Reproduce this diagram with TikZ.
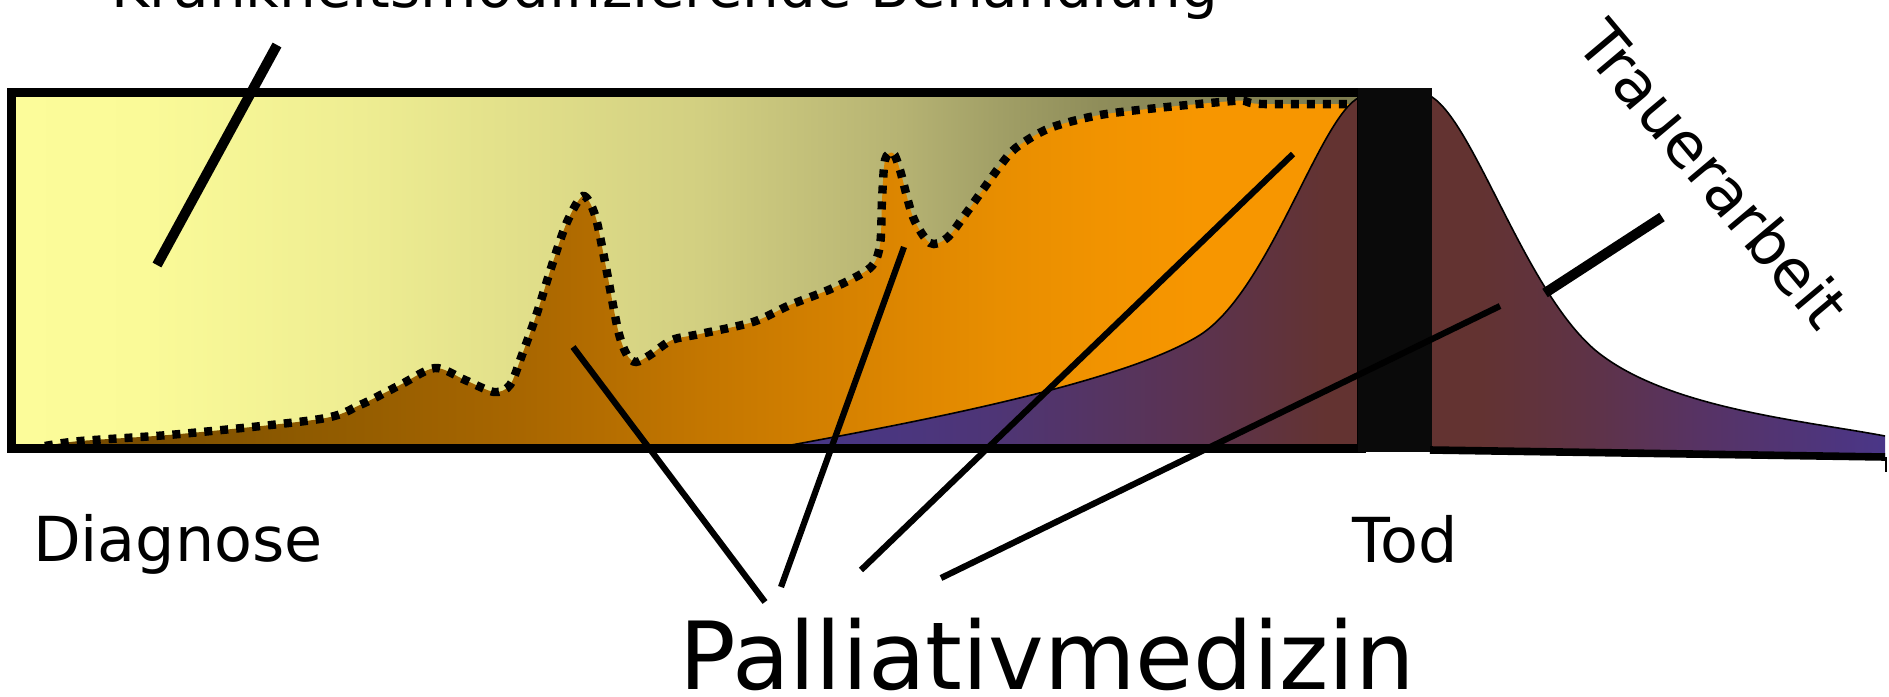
\documentclass[tikz,border=0pt]{standalone}
\usepackage{fontspec}
\setmainfont{DejaVu Sans}
\definecolor{ya}{HTML}{FCFC9A}
\definecolor{yb}{HTML}{FAFA98}
\definecolor{yc}{HTML}{EEED92}
\definecolor{yd}{HTML}{E3E18B}
\definecolor{ye}{HTML}{D2CF81}
\definecolor{yf}{HTML}{B6B373}
\definecolor{yg}{HTML}{A19F66}
\definecolor{yh}{HTML}{8F8D5A}
\definecolor{yi}{HTML}{7C7B4E}
\definecolor{oa}{HTML}{6F4600}
\definecolor{ob}{HTML}{8E5A00}
\definecolor{oc}{HTML}{A86600}
\definecolor{od}{HTML}{C37600}
\definecolor{oe}{HTML}{DD8600}
\definecolor{of}{HTML}{E88E00}
\definecolor{og}{HTML}{F19300}
\definecolor{oh}{HTML}{F79600}
\definecolor{pa}{HTML}{46378A}
\definecolor{pb}{HTML}{4E3576}
\definecolor{pc}{HTML}{5B3350}
\definecolor{pd}{HTML}{633331}
\definecolor{pe}{HTML}{5E3349}
\definecolor{pf}{HTML}{573364}
\definecolor{pg}{HTML}{4A3688}
\definecolor{barblack}{HTML}{0A0A0A}
\pgfdeclarehorizontalshading{yelsh}{100bp}{color(0bp)=(ya); color(25bp)=(ya); color(30.15bp)=(yb); color(37.96bp)=(yc); color(43.11bp)=(yd); color(50.52bp)=(ye); color(57.93bp)=(yf); color(61.63bp)=(yg); color(65.33bp)=(yh); color(75bp)=(yi); color(100bp)=(yi)}
\pgfdeclarehorizontalshading{orsh}{100bp}{color(0bp)=(oa); color(25bp)=(oa); color(34.69bp)=(ob); color(43.05bp)=(oc); color(49.89bp)=(od); color(57.48bp)=(oe); color(61.28bp)=(of); color(65.08bp)=(og); color(68.88bp)=(oh); color(75bp)=(oh); color(100bp)=(oh)}
\pgfdeclarehorizontalshading{pusSh}{100bp}{color(0bp)=(pa); color(25bp)=(pa); color(34.85bp)=(pb); color(43.92bp)=(pc); color(49.82bp)=(pd); color(56.62bp)=(pd); color(62.07bp)=(pe); color(66.61bp)=(pf); color(75bp)=(pg); color(100bp)=(pg)}
\tikzset{
  pointer/.style={line width=3.1pt},
  boldpointer/.style={line width=5pt},
  lbl/.style={inner sep=0pt, font=\fontsize{31}{37}\selectfont},
  biglbl/.style={inner sep=0pt, font=\fontsize{47}{56}\selectfont},
  toplbl/.style={inner sep=0pt, font=\fontsize{29}{35}\selectfont},
  dotline/.style={line width=4.2pt, dash pattern=on 4pt off 4pt},
  frameline/.style={line width=4.5pt},
  bellline/.style={line width=0.8pt},
}
\begin{document}
\begin{tikzpicture}[x=0.5pt,y=-0.5pt]
\useasboundingbox (0,0) rectangle (1889,696);
% yellow background
\shade[shading=yelsh] (11,92) rectangle (1361,448);
% orange area
\def\dotpts{(45,446) (80,441) (180,434) (320,419) (360,405) (400,385) (435,368) (465,380) (494,392) (510,385) (522,355) (537,313) (552,265) (567,222) (583,196) (595,215) (605,262) (618,330) (627,355) (636,362) (650,355) (672,340) (700,334) (753,322) (790,305) (833,288) (870,268) (880,245) (882,200) (885,160) (893,153) (900,170) (913,217) (930,243) (947,238) (967,212) (1000,166) (1017,147) (1050,128) (1100,115) (1167,107) (1233,101) (1245,101) (1262,104) (1361,104)}
\shade[shading=orsh] plot[smooth,tension=0.5] coordinates {\dotpts} -- (1361,448) -- (45,448) -- cycle;
\draw[dotline] plot[smooth,tension=0.5] coordinates {\dotpts};
% bell
\def\bellpath{(775,448) .. controls (900,425) and (1120,385) .. (1200,335) .. controls (1270,290) and (1320,115) .. (1360,97) .. controls (1380,91) and (1410,91) .. (1432,97) .. controls (1475,125) and (1525,290) .. (1595,350) .. controls (1665,408) and (1800,420) .. (1885,436)}
\shade[shading=pusSh] \bellpath -- (1885,457) -- (1432,450) -- (775,448) -- cycle;
\draw[bellline] \bellpath;
% frame
\draw[frameline] (11,92) rectangle (1361,448);
% bar
\fill[barblack] (1358,88) rectangle (1432,452);
% right baseline
\coordinate (bl1) at (1430,450);
\coordinate (bl2) at (1885,457);
\draw[line width=3.8pt] (bl1) -- (bl2);
\coordinate (tk1) at (1886,457);
\coordinate (tk2) at (1886,472);
\draw[line width=0.6pt] (tk1) -- (tk2);
% texts
\node[toplbl, anchor=base] (kmb) at (665,7) {Krankheitsmodifizierende Behandlung};
\node[lbl, anchor=base] (diag) at (178,561) {Diagnose};
\node[lbl, anchor=base] (tod) at (1405,562) {Tod};
\node[biglbl, anchor=base] (pall) at (1047,689) {Palliativmedizin};
\node[lbl, rotate=-50] (trauer) at (1714,174) {Trauerarbeit};
% pointers
\coordinate (k1) at (157,265);
\coordinate (k2) at (277,45);
\draw[boldpointer] (k1) -- (k2);
\coordinate (pa1) at (573,347);
\coordinate (pa2) at (765,602);
\coordinate (pb1) at (904,247);
\coordinate (pb2) at (781,587);
\coordinate (pc1) at (1293,154);
\coordinate (pc2) at (861,570);
\coordinate (pd1) at (1500,306);
\coordinate (pd2) at (941,578);
\draw[pointer] (pa1) -- (pa2);
\draw[pointer] (pb1) -- (pb2);
\draw[pointer] (pc1) -- (pc2);
\draw[pointer] (pd1) -- (pd2);
\coordinate (t1) at (1545,293);
\coordinate (t2) at (1662,217);
\draw[boldpointer] (t1) -- (t2);
\end{tikzpicture}
\end{document}
